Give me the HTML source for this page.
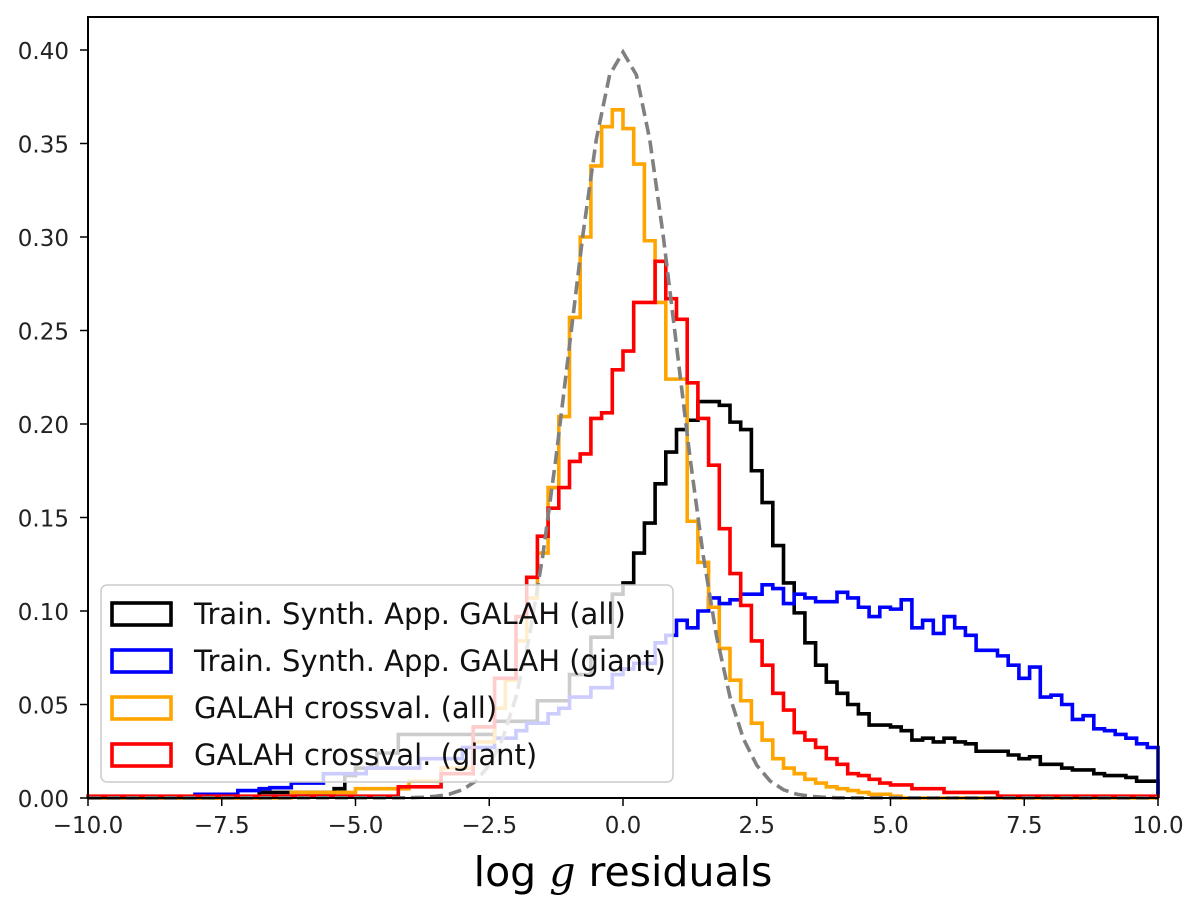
<!DOCTYPE html>
<html><head><meta charset="utf-8"><style>
html,body{margin:0;padding:0;background:#fff;}
svg{display:block;font-family:"DejaVu Sans","Liberation Sans",sans-serif;}
</style></head><body>
<svg id="chart" width="1200" height="917" viewBox="0 0 1200 917" xmlns="http://www.w3.org/2000/svg">
<g id="series"></g>
<rect x="88" y="17" width="1070" height="781" fill="none" stroke="#000" stroke-width="2"/>
<g id="xticks"></g>
<g id="yticks"></g>
<text x="623" y="886" font-size="41" text-anchor="middle" fill="#000">log <tspan font-style="italic" font-family="DejaVu Serif, Liberation Serif, serif">g</tspan> residuals</text>
<g id="legend">
<rect x="101" y="585" width="572" height="197" rx="6" fill="#fff" fill-opacity="0.8" stroke="#ccc" stroke-width="1.5"/>
</g>
</svg>
<script>
const binStart = -10, binWidth = 0.2;
const blackAll = [0,0,0,0,0,0,0,0,0,0, 0,0,0,0,0,0,0.003,0.003,0.003,0.003, 0.003,0.003,0.003,0.005,0.012,0.016,0.016,0.024,0.024,0.034, 0.034,0.034,0.034,0.034,0.034,0.034,0.034,0.034,0.041,0.041, 0.041,0.041,0.052,0.052,0.052,0.066,0.066,0.086,0.086,0.109, 0.115,0.131,0.147,0.168,0.185,0.197,0.202,0.212,0.212,0.210, 0.201,0.197,0.175,0.158,0.135,0.115,0.099,0.083,0.071,0.062, 0.056,0.050,0.045,0.039,0.039,0.038,0.036,0.031,0.032,0.030, 0.032,0.030,0.029,0.025,0.025,0.025,0.023,0.021,0.022,0.018, 0.018,0.016,0.015,0.015,0.013,0.012,0.012,0.011,0.009,0.009];
const blueGiant = [0,0,0,0,0,0,0,0,0,0, 0.002,0.002,0.002,0.002,0.004,0.004,0.005,0.0055,0.0055,0.008, 0.008,0.008,0.013,0.013,0.013,0.013,0.016,0.016,0.016,0.016, 0.016,0.021,0.021,0.021,0.021,0.027,0.027,0.027,0.032,0.032, 0.036,0.040,0.040,0.045,0.048,0.054,0.054,0.059,0.059,0.066, 0.069,0.072,0.072,0.083,0.087,0.095,0.091,0.100,0.107,0.104, 0.106,0.109,0.109,0.114,0.112,0.104,0.109,0.107,0.105,0.105, 0.110,0.107,0.102,0.097,0.102,0.101,0.106,0.091,0.095,0.088, 0.097,0.091,0.087,0.079,0.079,0.076,0.071,0.064,0.070,0.054, 0.055,0.050,0.042,0.044,0.037,0.036,0.034,0.032,0.029,0.027];
const orangeAll = [0,0,0,0,0,0,0,0,0,0, 0,0,0,0,0,0,0,0,0,0.003, 0.003,0.003,0.003,0.003,0.003,0.005,0.005,0.005,0.005,0.005, 0.009,0.009,0.009,0.016,0.016,0.016,0.030,0.030,0.048,0.063, 0.084,0.107,0.131,0.166,0.204,0.257,0.300,0.338,0.359,0.368, 0.358,0.339,0.298,0.265,0.224,0.224,0.148,0.126,0.102,0.080, 0.063,0.052,0.040,0.031,0.021,0.016,0.013,0.010,0.008,0.006, 0.005,0.004,0.003,0.002,0.002,0.001,0,0,0,0, 0,0,0,0,0,0,0,0,0,0, 0,0,0,0,0,0,0,0,0,0];
const redGiant = [0.001,0.001,0.001,0.001,0.001,0.001,0.001,0.001,0.001,0.001, 0.001,0.001,0.001,0.001,0.001,0.001,0.001,0.001,0.001,0.001, 0.001,0.001,0.001,0.001,0.001,0.001,0.001,0.001,0.001,0.006, 0.006,0.006,0.006,0.013,0.013,0.013,0.038,0.038,0.064,0.064, 0.097,0.118,0.140,0.155,0.166,0.180,0.184,0.203,0.206,0.229, 0.239,0.265,0.265,0.287,0.267,0.256,0.222,0.203,0.178,0.144, 0.120,0.103,0.084,0.071,0.056,0.047,0.035,0.031,0.027,0.021, 0.018,0.013,0.012,0.010,0.008,0.007,0.007,0.005,0.005,0.005, 0.003,0.003,0.003,0.003,0.003,0.001,0.001,0.001,0.001,0.001, 0.001,0.001,0.001,0.001,0.001,0.001,0.001,0.001,0.001,0.001];
const gaussX = [-10,-4,-3.75,-3.5,-3.25,-3,-2.75,-2.5,-2.25,-2,-1.75,-1.5,-1.25,-1,-0.75,-0.5,-0.25,0,0.25,0.5,0.75,1,1.25,1.5,1.75,2,2.25,2.5,2.75,3,3.25,3.5,3.75,4,10];
const gaussY = [0,0.0001,0.0004,0.0009,0.002,0.0044,0.0091,0.0175,0.0317,0.054,0.0863,0.1295,0.1826,0.242,0.3011,0.3521,0.3867,0.3989,0.3867,0.3521,0.3011,0.242,0.1826,0.1295,0.0863,0.054,0.0317,0.0175,0.0091,0.0044,0.002,0.0009,0.0004,0.0001,0];
const xTickVals = [-10,-7.5,-5,-2.5,0,2.5,5,7.5,10];
const xTickLabels = ["\u221210.0","\u22127.5","\u22125.0","\u22122.5","0.0","2.5","5.0","7.5","10.0"];
const yTickVals = [0,0.05,0.1,0.15,0.2,0.25,0.3,0.35,0.4];
const yTickLabels = ["0.00","0.05","0.10","0.15","0.20","0.25","0.30","0.35","0.40"];
const legendLabels = ["Train. Synth. App. GALAH (all)","Train. Synth. App. GALAH (giant)","GALAH crossval. (all)","GALAH crossval. (giant)"];

const NS="http://www.w3.org/2000/svg";
const X0=88,X1=1158,Y0=798,YTOP=50;
function xs(v){return X0+(v+10)/20*(X1-X0);}
function ys(v){return Y0-v/0.4*(Y0-YTOP);}
function mk(tag,parent){const e=document.createElementNS(NS,tag);parent.appendChild(e);return e;}
const ser=document.getElementById('series');
function stepPath(vals){
  let d='M'+xs(binStart)+','+ys(0);
  vals.forEach((v,i)=>{const a=binStart+i*binWidth;d+=' L'+xs(a)+','+ys(v)+' L'+xs(a+binWidth)+','+ys(v);});
  d+=' L'+xs(binStart+vals.length*binWidth)+','+ys(0);
  return d;
}
const seriesList=[[blackAll,'#000','hist-train-all'],[blueGiant,'#0000ff','hist-train-giant'],[orangeAll,'#ffa500','hist-crossval-all'],[redGiant,'#ff0000','hist-crossval-giant']];
seriesList.forEach(s=>{
  const p=mk('path',ser);
  
  
  p.setAttribute('d',stepPath(s[0]));p.setAttribute('fill','none');p.setAttribute('stroke',s[1]);p.setAttribute('stroke-width','3.6');p.setAttribute('stroke-linejoin','miter');
});
const g=mk('path',ser);


g.setAttribute('d','M'+gaussX.map((x,i)=>xs(x)+','+ys(gaussY[i])).join(' L'));
g.setAttribute('fill','none');g.setAttribute('stroke','#808080');g.setAttribute('stroke-width','3.6');g.setAttribute('stroke-dasharray','13,6');

const xt=document.getElementById('xticks');
xTickVals.forEach((v,i)=>{
  const l=mk('line',xt);
  
  
  l.setAttribute('x1',xs(v));l.setAttribute('x2',xs(v));l.setAttribute('y1',Y0);l.setAttribute('y2',Y0+8);l.setAttribute('stroke','#000');l.setAttribute('stroke-width','1.5');
  const t=mk('text',xt);
  
  
  t.setAttribute('x',xs(v));t.setAttribute('y',833);t.setAttribute('font-size','23');t.setAttribute('text-anchor','middle');t.setAttribute('fill','#222');t.textContent=xTickLabels[i];
});
const yt=document.getElementById('yticks');
yTickVals.forEach((v,i)=>{
  const l=mk('line',yt);
  
  
  l.setAttribute('x1',X0-8);l.setAttribute('x2',X0);l.setAttribute('y1',ys(v));l.setAttribute('y2',ys(v));l.setAttribute('stroke','#000');l.setAttribute('stroke-width','1.5');
  const t=mk('text',yt);
  
  
  t.setAttribute('x',69);t.setAttribute('y',ys(v)+9);t.setAttribute('font-size','23');t.setAttribute('text-anchor','end');t.setAttribute('fill','#222');t.textContent=yTickLabels[i];
});
const lg=document.getElementById('legend');
const colors=['#000','#0000ff','#ffa500','#ff0000'];
legendLabels.forEach((lab,i)=>{
  const cy=614+i*47;
  const r=mk('rect',lg);
  
  
  r.setAttribute('x',112);r.setAttribute('y',cy-11);r.setAttribute('width',59);r.setAttribute('height',22);r.setAttribute('fill','none');r.setAttribute('stroke',colors[i]);r.setAttribute('stroke-width','3.6');
  const t=mk('text',lg);
  
  
  t.setAttribute('x',194);t.setAttribute('y',cy+10);t.setAttribute('font-size','29');t.setAttribute('fill','#111');t.textContent=lab;
});
</script>
</body></html>
